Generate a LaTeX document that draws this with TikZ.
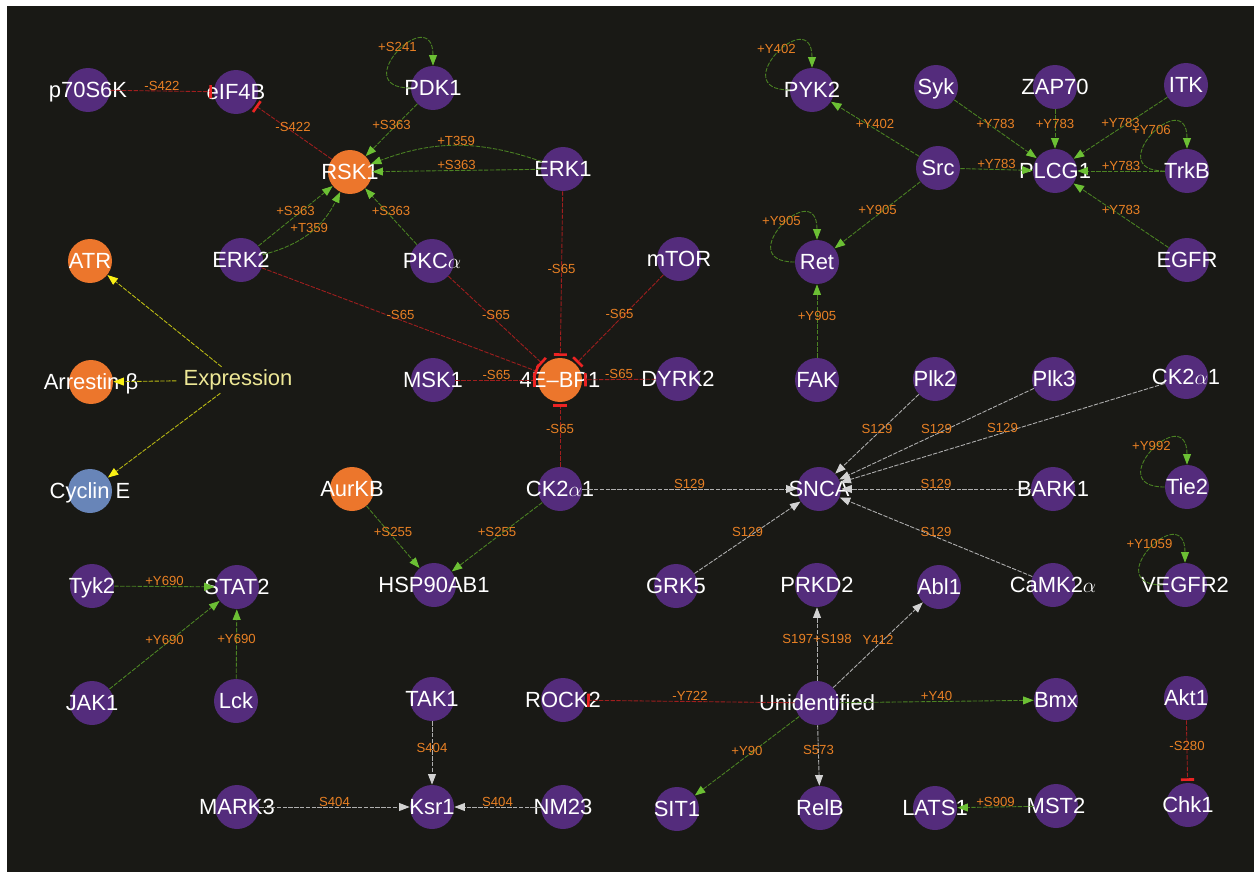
\documentclass[tikz,border=0pt]{standalone}
\usepackage{fontspec}
\setmainfont{Liberation Sans}
\usetikzlibrary{arrows.meta}
\definecolor{bgdark}{RGB}{25,25,21}
\definecolor{protpurple}{RGB}{84,44,124}
\definecolor{protorange}{RGB}{236,118,44}
\definecolor{protblue}{RGB}{104,133,184}
\definecolor{actline}{RGB}{75,130,35}
\definecolor{acthead}{RGB}{108,192,52}
\definecolor{inhline}{RGB}{160,30,30}
\definecolor{inhbar}{RGB}{235,35,35}
\definecolor{neuline}{RGB}{175,175,175}
\definecolor{neuhead}{RGB}{210,210,210}
\definecolor{expline}{RGB}{190,190,20}
\definecolor{exphead}{RGB}{250,240,20}
\definecolor{tagorange}{RGB}{232,128,36}
\definecolor{exptext}{RGB}{238,232,150}

\begin{document}
\begin{tikzpicture}[x=0.02cm, y=0.02cm,
    ptxt/.style={text=white, font=\fontsize{12.5}{14}\selectfont, text height=9pt, text depth=0pt, inner sep=0pt},
    prot/.style={circle, fill=protpurple, minimum size=0.88cm, inner sep=0pt, label={[ptxt]center:#1}},
    hit/.style={prot=#1, fill=protorange},
    tag/.style={text=tagorange, font=\fontsize{7.5}{8}\selectfont, text height=5.4pt, text depth=0pt, inner sep=0pt, midway, yshift=3pt},
    act/.style={draw=actline, line width=0.5pt, dash pattern=on 2.5pt off 0.8pt, -{Triangle[length=6pt, width=4.5pt, color=acthead]}},
    inh/.style={draw=inhline, line width=0.5pt, dash pattern=on 2.5pt off 0.8pt, -{Bar[width=7.5pt, line width=1.5pt, color=inhbar]}, shorten >=1pt},
    neu/.style={draw=neuline, line width=0.5pt, dash pattern=on 2.5pt off 0.8pt, -{Triangle[length=6pt, width=4.5pt, color=neuhead]}},
    expn/.style={draw=expline, line width=0.5pt, dash pattern=on 2.5pt off 0.8pt, -{Triangle[length=6pt, width=4.5pt, color=exphead]}},
    selfloop/.style={act, out=180, in=90, min distance=1.3cm}]

    % frame
    \fill[white] (0,0) rectangle (1254,-872);
    \fill[bgdark] (7,-6) rectangle (1254,-872);

    % proteins
    \node[prot=p70S6K] (p70) at (88,-90) {};
    \node[prot=eIF4B] (eif) at (236,-92) {};
    \node[prot=PDK1] (pdk) at (433,-88) {};
    \node[hit=RSK1] (rsk) at (350,-172) {};
    \node[prot=ERK1] (erk1) at (563,-169) {};
    \node[prot=ERK2] (erk2) at (241,-260) {};
    \node[prot={PKC$\alpha$}] (pkca) at (432,-261) {};
    \node[prot=mTOR] (mtor) at (679,-259) {};
    \node[hit=ATR] (atr) at (90,-261) {};
    \node[hit={Arrestin β}] (arr) at (91,-382) {};
    \node[prot={Cyclin E}, fill=protblue] (cyc) at (90,-491) {};
    \node[text=exptext, font=\fontsize{12.5}{14}\selectfont, inner xsep=4pt, inner ysep=1.5pt] (expr) at (238,-380) {Expression};
    \node[hit=AurKB] (aurkb) at (352,-489) {};
    \node[prot=MSK1] (msk) at (433,-380) {};
    \node[hit=4E–BP1] (ebp) at (560,-380) {};
    \node[prot=DYRK2] (dyrk) at (678,-379) {};
    \node[prot={CK2$\alpha$1}] (ckl) at (560,-489) {};
    \node[prot=HSP90AB1] (hsp) at (434,-585) {};

    \node[prot=PYK2] (pyk) at (812,-90) {};
    \node[prot=Syk] (syk) at (936,-87) {};
    \node[prot=ZAP70] (zap) at (1055,-87) {};
    \node[prot=ITK] (itk) at (1186,-85) {};
    \node[prot=Src] (src) at (938,-168) {};
    \node[prot=PLCG1] (plcg) at (1055,-171) {};
    \node[prot=TrkB] (trkb) at (1187,-171) {};
    \node[prot=Ret] (ret) at (817,-262) {};
    \node[prot=EGFR] (egfr) at (1187,-260) {};
    \node[prot=FAK] (fak) at (817,-380) {};
    \node[prot=Plk2] (plk2) at (935,-379) {};
    \node[prot=Plk3] (plk3) at (1054,-379) {};
    \node[prot={CK2$\alpha$1}] (ckr) at (1186,-377) {};
    \node[prot=SNCA] (snca) at (819,-489) {};
    \node[prot=BARK1] (bark) at (1053,-489) {};
    \node[prot=Tie2] (tie) at (1187,-487) {};

    \node[prot=Tyk2] (tyk) at (92,-586) {};
    \node[prot=STAT2] (stat) at (237,-587) {};
    \node[prot=JAK1] (jak) at (92,-703) {};
    \node[prot=Lck] (lck) at (236,-701) {};
    \node[prot=MARK3] (mark) at (237,-807) {};
    \node[prot=TAK1] (tak) at (432,-699) {};
    \node[prot=Ksr1] (ksr) at (432,-807) {};
    \node[prot=NM23] (nm) at (563,-807) {};
    \node[prot=ROCK2] (rock) at (563,-700) {};
    \node[prot=GRK5] (grk) at (676,-586) {};
    \node[prot=SIT1] (sit) at (677,-809) {};
    \node[prot=Unidentified] (unid) at (817,-703) {};
    \node[prot=PRKD2] (prkd) at (817,-585) {};
    \node[prot=Abl1] (abl) at (939,-587) {};
    \node[prot={CaMK2$\alpha$}] (camk) at (1053,-585) {};
    \node[prot=VEGFR2] (vegfr) at (1185,-585) {};
    \node[prot=Bmx] (bmx) at (1056,-700) {};
    \node[prot=Akt1] (akt) at (1186,-698) {};
    \node[prot=RelB] (relb) at (820,-808) {};
    \node[prot=LATS1] (lats) at (935,-808) {};
    \node[prot=MST2] (mst) at (1056,-806) {};
    \node[prot=Chk1] (chk) at (1188,-805) {};

    % RSK1 and eIF4B
    \draw[inh] (p70) -- (eif) node[tag]{-S422};
    \draw[inh] (rsk) -- (eif) node[tag]{-S422};
    \draw[selfloop] (pdk) to node[tag]{+S241} (pdk);
    \draw[act] (pdk) -- (rsk) node[tag]{+S363};
    \draw[act] (erk1) to[bend right=20] node[tag]{+T359} (rsk);
    \draw[act] (erk1) -- (rsk) node[tag]{+S363};
    \draw[act] (erk2) -- (rsk) node[tag]{+S363};
    \draw[act] (erk2) to[bend right=25] node[tag]{+T359} (rsk);
    \draw[act] (pkca) -- (rsk) node[tag]{+S363};

    % 4E-BP1 at S65
    \draw[inh] (erk1) -- (ebp) node[tag]{-S65};
    \draw[inh] (erk2) -- (ebp) node[tag]{-S65};
    \draw[inh] (pkca) -- (ebp) node[tag]{-S65};
    \draw[inh] (mtor) -- (ebp) node[tag]{-S65};
    \draw[inh] (msk) -- (ebp) node[tag]{-S65};
    \draw[inh] (dyrk) -- (ebp) node[tag]{-S65};
    \draw[inh] (ckl) -- (ebp) node[tag]{-S65};

    % expression
    \draw[expn] (expr) -- (atr);
    \draw[expn] (expr) -- (arr);
    \draw[expn] (expr) -- (cyc);

    % HSP90AB1
    \draw[act] (aurkb) -- (hsp) node[tag]{+S255};
    \draw[act] (ckl) -- (hsp) node[tag]{+S255};

    % SNCA at S129
    \draw[neu] (ckl) -- (snca) node[tag]{S129};
    \draw[neu] (grk) -- (snca) node[tag]{S129};
    \draw[neu] (plk2) -- (snca) node[tag]{S129};
    \draw[neu] (plk3) -- (snca) node[tag]{S129};
    \draw[neu] (ckr) -- (snca) node[tag]{S129};
    \draw[neu] (bark) -- (snca) node[tag]{S129};
    \draw[neu] (camk) -- (snca) node[tag]{S129};

    % Src, Ret, PYK2
    \draw[act] (fak) -- (ret) node[tag]{+Y905};
    \draw[selfloop] (ret) to node[tag]{+Y905} (ret);
    \draw[act] (src) -- (ret) node[tag]{+Y905};
    \draw[act] (src) -- (pyk) node[tag]{+Y402};
    \draw[selfloop] (pyk) to node[tag]{+Y402} (pyk);

    % PLCG1 at Y783
    \draw[act] (syk) -- (plcg) node[tag]{+Y783};
    \draw[act] (zap) -- (plcg) node[tag]{+Y783};
    \draw[act] (itk) -- (plcg) node[tag]{+Y783};
    \draw[act] (src) -- (plcg) node[tag]{+Y783};
    \draw[act] (trkb) -- (plcg) node[tag]{+Y783};
    \draw[act] (egfr) -- (plcg) node[tag]{+Y783};
    \draw[selfloop] (trkb) to node[tag]{+Y706} (trkb);

    % autophosphorylation
    \draw[selfloop] (tie) to node[tag]{+Y992} (tie);
    \draw[selfloop] (vegfr) to node[tag]{+Y1059} (vegfr);

    % STAT2
    \draw[act] (tyk) -- (stat) node[tag]{+Y690};
    \draw[act] (jak) -- (stat) node[tag]{+Y690};
    \draw[act] (lck) -- (stat) node[tag]{+Y690};

    % Ksr1
    \draw[neu] (tak) -- (ksr) node[tag]{S404};
    \draw[neu] (mark) -- (ksr) node[tag]{S404};
    \draw[neu] (nm) -- (ksr) node[tag]{S404};

    % unidentified kinase
    \draw[inh] (unid) -- (rock) node[tag]{-Y722};
    \draw[neu] (unid) -- (prkd) node[tag]{S197+S198};
    \draw[neu] (unid) -- (abl) node[tag]{Y412};
    \draw[act] (unid) -- (bmx) node[tag]{+Y40};
    \draw[act] (unid) -- (sit) node[tag]{+Y90};
    \draw[neu] (unid) -- (relb) node[tag]{S573};

    % LATS1, Chk1
    \draw[act] (mst) -- (lats) node[tag]{+S909};
    \draw[inh] (akt) -- (chk) node[tag]{-S280};
\end{tikzpicture}
\end{document}
